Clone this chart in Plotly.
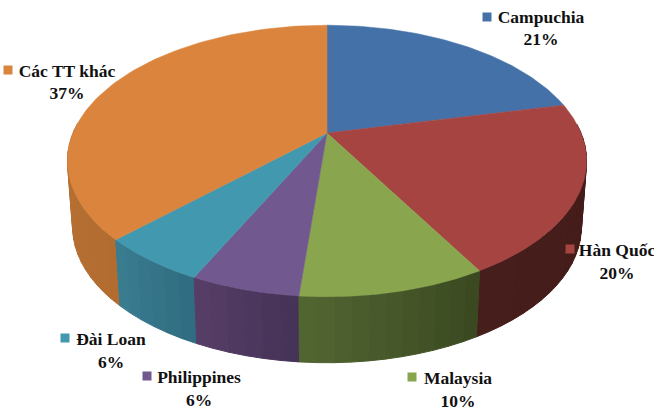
import numpy as np
import plotly.graph_objects as go

categories = ["Campuchia", "Hàn Quốc", "Malaysia", "Philippines", "Đài Loan", "Các TT khác"]
values = [21.4, 20.4, 9.6, 5.6, 5.6, 37.4]
percent_labels = ["21%", "20%", "10%", "6%", "6%", "37%"]

top_colors = ["#4471A7", "#A64442", "#89A54E", "#71588F", "#4198AF", "#DB843D"]
wall_left = [(45, 80, 120), (70, 30, 27), (82, 102, 50), (88, 62, 104), (58, 125, 146), (196, 124, 58)]
wall_right = [(45, 80, 120), (66, 26, 23), (58, 72, 32), (68, 50, 86), (48, 108, 128), (178, 108, 48)]

# label anchor (marker position, text position) in picture pixels
marker_xy = [(487, 17), (570, 249), (412, 377), (147, 376), (65, 338), (8, 70)]
text_xy = [(541, 29.5), (617, 263), (458, 391), (199, 390), (111, 352), (67, 83.5)]

CX, CY, A, B, K = 327, 133, 254, 130, 0.206
DEPTH, SHRINK = 66, 0.98


def project(t):
    u, v = np.sin(t), np.cos(t)
    w = 1 + K * v
    return CX + A * u / w, CY - B * v / w


def project_low(t):
    x, y = project(t)
    return CX + (x - CX) * SHRINK, y + DEPTH


def rgb(c):
    return "rgb(%d,%d,%d)" % tuple(int(round(i)) for i in c)


edges = np.cumsum([0] + values) / sum(values) * 2 * np.pi
fig = go.Figure()

# side wall strips, visible front part only
strips = []
for i in range(len(values)):
    a0, a1 = edges[i], edges[i + 1]
    n = max(2, int((a1 - a0) / np.radians(3)))
    ts = np.linspace(a0, a1, n + 1)
    for j in range(n):
        t0, t1 = ts[j], ts[j + 1]
        if np.cos((t0 + t1) / 2) > 0.05:
            continue
        f = (j + 0.5) / n
        # wall colour runs from the slice's screen right edge to its left edge
        col = [wall_right[i][k] + (wall_left[i][k] - wall_right[i][k]) * f for k in range(3)]
        strips.append((t0, t1, col))
strips.sort(key=lambda s: np.cos((s[0] + s[1]) / 2), reverse=True)
for t0, t1, col in strips:
    seg = np.linspace(t0, t1, 4)
    xa, ya = project(seg)
    xb, yb = project_low(seg[::-1])
    fig.add_trace(go.Scatter(x=np.r_[xa, xb, xa[0]], y=np.r_[ya, yb, ya[0]], mode="lines",
                             fill="toself", fillcolor=rgb(col),
                             line=dict(color=rgb(col), width=1), hoverinfo="skip"))

# top face
for i in range(len(values)):
    seg = np.linspace(edges[i], edges[i + 1], 90)
    xa, ya = project(seg)
    fig.add_trace(go.Scatter(x=np.r_[CX, xa, CX], y=np.r_[CY, ya, CY], mode="lines",
                             fill="toself", fillcolor=top_colors[i],
                             line=dict(color=top_colors[i], width=0.5), hoverinfo="skip"))

# labels
for i, name in enumerate(categories):
    fig.add_trace(go.Scatter(x=[marker_xy[i][0]], y=[marker_xy[i][1]], mode="markers",
                             marker=dict(symbol="square", size=9, color=top_colors[i]),
                             hoverinfo="skip"))
    fig.add_trace(go.Scatter(x=[text_xy[i][0]], y=[text_xy[i][1]], mode="text",
                             text=[f"<b>{name}<br>{percent_labels[i]}</b>"],
                             textposition="middle center", cliponaxis=True,
                             textfont=dict(family="Liberation Serif", size=17.5, color="#111111"),
                             hoverinfo="skip"))

fig.update_layout(
    width=660, height=420, autosize=False, showlegend=False,
    margin=dict(l=0, r=6, t=0, b=0), paper_bgcolor="white", plot_bgcolor="white",
    xaxis=dict(range=[0, 654], visible=False, fixedrange=True),
    yaxis=dict(range=[420, 0], visible=False, fixedrange=True),
)
fig.write_html("out.html", config={"displayModeBar": False},
               post_script="document.body.style.margin='0';document.body.style.overflow='hidden';")
